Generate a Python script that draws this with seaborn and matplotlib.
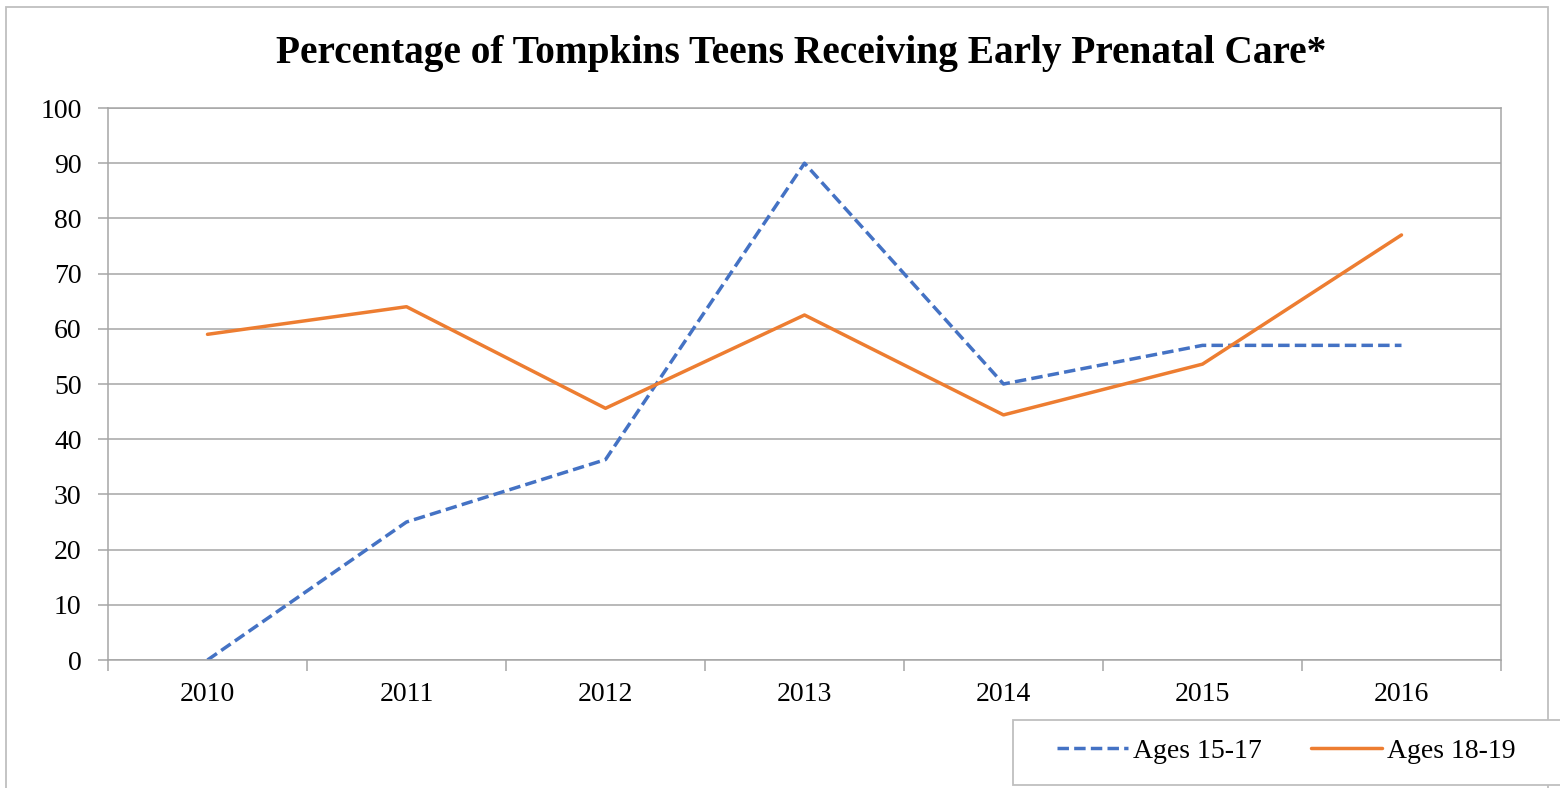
import pandas as pd
import matplotlib.pyplot as plt
import seaborn as sns
from matplotlib.patches import Rectangle
from matplotlib.lines import Line2D

# data
years = [2010, 2011, 2012, 2013, 2014, 2015, 2016]
ages_15_17 = [0, 25, 36.3, 90, 50, 57, 57]
ages_18_19 = [59, 64, 45.6, 62.5, 44.4, 53.6, 77]
groups = ["Ages 15-17", "Ages 18-19"]

df = pd.DataFrame({
    "year": years * 2,
    "pct": ages_15_17 + ages_18_19,
    "group": [groups[0]] * len(years) + [groups[1]] * len(years),
})

sns.set_style("white")
plt.rcParams["font.family"] = ["Liberation Serif", "DejaVu Serif"]
plt.rcParams["text.color"] = "black"
plt.rcParams["xtick.labelcolor"] = "black"
plt.rcParams["ytick.labelcolor"] = "black"

fig = plt.figure(figsize=(15.6, 7.88), dpi=100)
ax = fig.add_axes([108 / 1560, 128 / 788, 1393 / 1560, 552 / 788])

colors = {groups[0]: "#4472C4", groups[1]: "#ED7D31"}
sns.lineplot(
    data=df, x="year", y="pct", hue="group", style="group",
    palette=colors, dashes={groups[0]: (3.3, 1.5), groups[1]: ""},
    linewidth=2.5, legend=False, ax=ax,
)

# ------------------------------------
# AXES
# ------------------------------------
grid_c = "#A6A6A6"
ax.set_xlim(years[0] - 0.5, years[-1] + 0.5)
ax.set_ylim(0, 100)
ax.set_yticks(range(0, 101, 10))
ax.yaxis.grid(True, color=grid_c, linewidth=1.1)
ax.set_axisbelow(True)
ax.set_xlabel("")
ax.set_ylabel("")
for s in ax.spines.values():
    s.set_color(grid_c)
    s.set_linewidth(1.1)

# major ticks on category boundaries, labels on centres
ax.set_xticks([y - 0.5 for y in years] + [years[-1] + 0.5])
ax.set_xticklabels([])
ax.set_xticks(years, minor=True)
ax.set_xticklabels([str(y) for y in years], minor=True)
ax.tick_params(axis="x", which="major", direction="out", length=8, width=1.1,
               color=grid_c, bottom=True)
ax.tick_params(axis="x", which="minor", length=0, pad=16, labelsize=20,
               labelcolor="black")
ax.tick_params(axis="y", direction="out", length=7, width=1.1, color=grid_c,
               left=True, pad=12, labelsize=20, labelcolor="black")

# ------------------------------------
# TITLE, FRAME, LEGEND
# ------------------------------------
fig.text(801 / 1560, (788 - 63) / 788,
         "Percentage of Tompkins Teens Receiving Early Prenatal Care*",
         ha="center", va="baseline", fontsize=28.4, fontweight="bold",
         color="black")

fig.patches.append(Rectangle((6 / 1560, -0.05), 1542 / 1560, (788 - 7) / 788 + 0.05,
                             transform=fig.transFigure, fill=False,
                             edgecolor="#BFBFBF", linewidth=1.3))
fig.patches.append(Rectangle((1013 / 1560, 3 / 788), 0.5, 65 / 788,
                             transform=fig.transFigure, facecolor="white",
                             edgecolor="#BFBFBF", linewidth=1.3, zorder=3))

handles = [Line2D([], [], color=colors[groups[0]], linewidth=2.5, dashes=(3.3, 1.5)),
           Line2D([], [], color=colors[groups[1]], linewidth=2.5)]
leg = fig.legend(handles, groups, loc="center left",
                 bbox_to_anchor=(1032 / 1560, 37 / 788), ncol=2, frameon=False,
                 fontsize=20, handlelength=2.55, handletextpad=0.2,
                 columnspacing=1.75, labelcolor="black")
leg.set_zorder(4)

fig.savefig("out.png", dpi=100)
